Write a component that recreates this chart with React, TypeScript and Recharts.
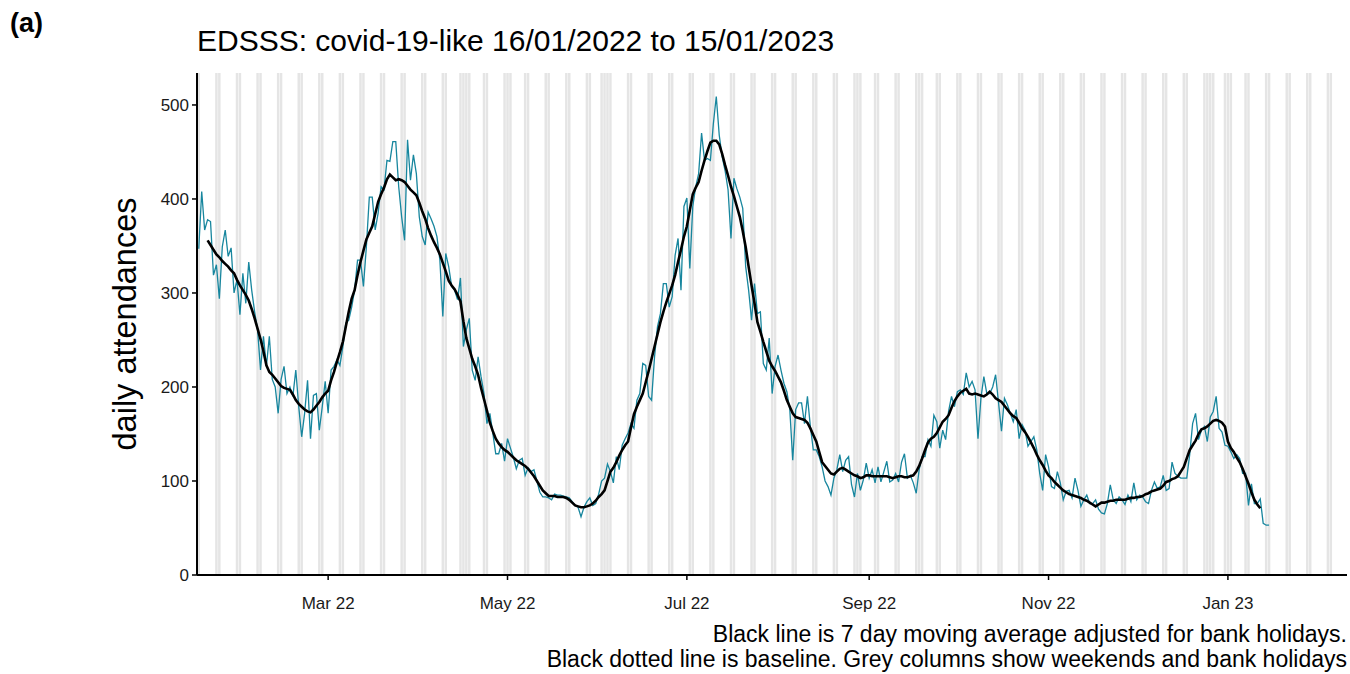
import React from "react";
import { ComposedChart, Line, XAxis, YAxis, ReferenceArea } from "recharts";

// day 0 = 16/01/2022
const START = Date.UTC(2022, 0, 16);
const DAY_MS = 86400000;
const dayOf = (iso: string) => Math.round((Date.parse(iso + "T00:00:00Z") - START) / DAY_MS);

// daily attendances, 16/01/2022 .. 15/01/2023
const DAILY = [
    347, 408, 367, 378, 376, 319, 330, 294, 349, 367, // d0
    339, 348, 300, 314, 277, 321, 289, 333, 303, 280, // d10
    261, 218, 254, 222, 254, 208, 200, 172, 208, 222, // d20
    193, 200, 190, 218, 179, 147, 172, 207, 145, 191, // d30
    193, 154, 179, 206, 172, 218, 222, 229, 223, 243, // d40
    268, 271, 285, 303, 335, 335, 307, 349, 402, 402, // d50
    367, 385, 413, 410, 441, 440, 461, 461, 413, 381, // d60
    356, 463, 420, 447, 427, 381, 360, 351, 386, 379, // d70
    371, 360, 335, 275, 342, 328, 307, 303, 293, 316, // d80
    243, 261, 273, 218, 207, 232, 211, 193, 161, 172, // d90
    151, 129, 129, 140, 121, 145, 135, 125, 113, 122, // d100
    124, 106, 114, 110, 112, 100, 88, 83, 83, 82, // d110
    80, 86, 85, 85, 84, 83, 82, 78, 74, 72, // d120
    62, 72, 78, 82, 74, 76, 86, 100, 103, 118, // d130
    110, 98, 126, 112, 138, 145, 151, 161, 156, 186, // d140
    193, 225, 223, 190, 186, 232, 264, 278, 310, 310, // d150
    285, 296, 340, 358, 303, 392, 401, 326, 392, 413, // d160
    427, 470, 441, 443, 441, 480, 509, 468, 445, 430, // d170
    410, 358, 422, 411, 402, 390, 328, 303, 271, 310, // d180
    278, 280, 225, 218, 252, 193, 222, 234, 218, 204, // d190
    195, 176, 122, 176, 183, 183, 161, 190, 158, 133, // d200
    133, 126, 115, 100, 94, 85, 103, 112, 128, 110, // d210
    122, 126, 96, 83, 108, 90, 101, 119, 103, 112, // d220
    98, 115, 99, 110, 121, 99, 101, 108, 99, 120, // d230
    129, 103, 106, 98, 87, 112, 126, 126, 144, 137, // d240
    170, 163, 135, 154, 144, 174, 190, 179, 195, 197, // d250
    192, 215, 200, 206, 197, 145, 188, 211, 193, 193, // d260
    200, 213, 183, 153, 188, 181, 172, 163, 176, 145, // d270
    160, 154, 137, 142, 147, 133, 108, 90, 128, 115, // d280
    94, 92, 110, 98, 80, 89, 90, 82, 103, 90, // d290
    73, 80, 85, 76, 76, 80, 70, 66, 65, 76, // d300
    96, 80, 76, 83, 80, 75, 85, 78, 98, 80, // d310
    85, 83, 78, 76, 90, 99, 92, 94, 106, 90, // d320
    92, 120, 108, 105, 103, 103, 103, 128, 161, 172, // d330
    144, 154, 158, 142, 168, 174, 190, 156, 152, 138, // d340
    137, 131, 124, 128, 124, 108, 108, 74, 97, 76, // d350
    76, 81, 55, 53, 53, // d360
];

// 7 day moving average, starts at day 3
const MA_START = 3;
const MOVING_AVG = [
    356, 351, 346, 341, 338, 334, 331, 328, 324, 321, // d3
    314, 308, 303, 298, 292, 283, 273, 262, 251, 238, // d13
    223, 216, 213, 209, 205, 201, 199, 198, 197, 192, // d23
    186, 182, 179, 176, 174, 173, 176, 180, 184, 189, // d33
    193, 196, 207, 216, 227, 237, 248, 264, 280, 294, // d43
    303, 319, 333, 345, 357, 364, 371, 384, 397, 405, // d53
    412, 421, 426, 423, 420, 421, 420, 418, 414, 410, // d63
    407, 404, 396, 387, 379, 369, 361, 354, 348, 341, // d73
    332, 323, 313, 308, 304, 298, 291, 270, 252, 241, // d83
    230, 222, 213, 199, 187, 175, 162, 153, 145, 140, // d93
    136, 133, 131, 128, 125, 122, 120, 118, 116, 113, // d103
    109, 105, 100, 95, 90, 87, 84, 84, 84, 83, // d113
    83, 83, 82, 80, 77, 74, 73, 72, 72, 73, // d123
    74, 76, 79, 83, 86, 90, 100, 110, 114, 120, // d133
    127, 133, 138, 142, 157, 171, 179, 186, 193, 205, // d143
    217, 230, 243, 256, 269, 280, 290, 299, 308, 319, // d153
    333, 346, 360, 371, 388, 405, 412, 418, 430, 441, // d163
    451, 460, 462, 462, 458, 448, 436, 425, 413, 403, // d173
    392, 381, 366, 349, 328, 308, 289, 269, 259, 248, // d183
    238, 228, 222, 217, 211, 205, 196, 186, 179, 172, // d193
    168, 167, 166, 165, 162, 156, 149, 142, 131, 120, // d203
    116, 112, 108, 107, 110, 113, 114, 112, 110, 108, // d213
    106, 105, 103, 104, 106, 106, 105, 105, 105, 105, // d223
    105, 105, 104, 103, 104, 105, 105, 104, 104, 105, // d233
    106, 110, 116, 124, 133, 141, 145, 147, 151, 157, // d243
    163, 166, 170, 178, 185, 190, 194, 196, 198, 193, // d253
    192, 193, 192, 191, 190, 192, 195, 192, 188, 186, // d263
    184, 180, 176, 172, 169, 167, 162, 156, 152, 147, // d273
    141, 135, 128, 122, 117, 111, 106, 103, 99, 96, // d283
    93, 90, 88, 86, 85, 84, 83, 82, 80, 79, // d293
    77, 75, 73, 75, 77, 77, 78, 79, 79, 80, // d303
    80, 80, 80, 81, 82, 82, 83, 83, 84, 86, // d313
    87, 89, 90, 91, 92, 95, 99, 100, 102, 103, // d323
    105, 110, 115, 124, 133, 138, 143, 150, 155, 156, // d333
    158, 161, 164, 165, 164, 162, 158, 142, 135, 131, // d343
    125, 120, 113, 105, 97, 88, 80, 75, 71, // d353
];

const TICK_DATES = ["2022-03-01", "2022-05-01", "2022-07-01", "2022-09-01", "2022-11-01", "2023-01-01"];
const TICK_LABELS = ["Mar 22", "May 22", "Jul 22", "Sep 22", "Nov 22", "Jan 23"];
const Y_TICKS = [0, 100, 200, 300, 400, 500];
const BANK_HOLIDAYS = [
    "2022-04-15", "2022-04-18", "2022-05-02", "2022-06-02", "2022-06-03",
    "2022-08-29", "2022-09-19", "2022-12-26", "2022-12-27", "2023-01-02",
];

const X_MIN = -0.6;
const X_MAX = 390.5;
const Y_MAX = 534;

const rows = DAILY.map((v, i) => {
    const k = i - MA_START;
    return { day: i, count: v, avg: k >= 0 && k < MOVING_AVG.length ? MOVING_AVG[k] : null };
});

// grey columns: weekends + bank holidays
const greyDays: number[] = [];
for (let d = 0; d <= Math.floor(X_MAX); d++) {
    const wd = new Date(START + d * DAY_MS).getUTCDay();
    if (wd === 0 || wd === 6) greyDays.push(d);
}
BANK_HOLIDAYS.map(dayOf).forEach((d) => {
    if (!greyDays.includes(d)) greyDays.push(d);
});

const tickDays = TICK_DATES.map(dayOf);
const tickText: Record<number, string> = {};
tickDays.forEach((d, i) => (tickText[d] = TICK_LABELS[i]));

const FONT = "'Liberation Sans', Arial, sans-serif";
const tickStyle = { fill: "#1a1a1a", fontSize: 17, fontFamily: FONT };

export default function App() {
    return (
        <div style={{ position: "absolute", left: 0, top: 0, width: 1350, height: 674, background: "#fff", fontFamily: FONT, overflow: "hidden" }}>
            <div style={{ position: "absolute", left: 10, top: 8, fontSize: 27, fontWeight: "bold", color: "#000" }}>(a)</div>
            <div style={{ position: "absolute", left: 197, top: 24, fontSize: 30, color: "#000", whiteSpace: "nowrap" }}>
                EDSSS: covid-19-like 16/01/2022 to 15/01/2023
            </div>
            <div
                style={{
                    position: "absolute",
                    left: 125,
                    top: 324,
                    transform: "translate(-50%, -50%) rotate(-90deg)",
                    fontSize: 32.5,
                    color: "#000",
                    whiteSpace: "nowrap",
                }}
            >
                daily attendances
            </div>
            <ComposedChart
                width={1350}
                height={674}
                data={rows}
                margin={{ top: 73, right: 3, left: 137, bottom: 64 }}
            >
                {greyDays.map((d) => (
                    <ReferenceArea
                        key={d}
                        x1={d - 0.42}
                        x2={d + 0.42}
                        fill="#e5e5e5"
                        fillOpacity={1}
                        stroke="none"
                        ifOverflow="hidden"
                    />
                ))}
                <XAxis
                    dataKey="day"
                    type="number"
                    domain={[X_MIN, X_MAX]}
                    allowDataOverflow
                    ticks={tickDays}
                    tickFormatter={(v) => tickText[v] ?? ""}
                    axisLine={{ stroke: "#000", strokeWidth: 2 }}
                    tickLine={{ stroke: "#000", strokeWidth: 1.5 }}
                    tickSize={5}
                    tickMargin={17}
                    tick={tickStyle}
                    height={35}
                />
                <YAxis
                    type="number"
                    domain={[0, Y_MAX]}
                    allowDataOverflow
                    ticks={Y_TICKS}
                    axisLine={{ stroke: "#000", strokeWidth: 2 }}
                    tickLine={{ stroke: "#000", strokeWidth: 1.5 }}
                    tickSize={5}
                    tickMargin={3}
                    tick={tickStyle}
                    width={60}
                />
                <Line
                    type="linear"
                    dataKey="count"
                    stroke="#17869e"
                    strokeWidth={1.3}
                    dot={false}
                    activeDot={false}
                    isAnimationActive={false}
                />
                <Line
                    type="linear"
                    dataKey="avg"
                    stroke="#000"
                    strokeWidth={2.6}
                    dot={false}
                    activeDot={false}
                    isAnimationActive={false}
                />
            </ComposedChart>
            <div
                style={{
                    position: "absolute",
                    right: 3,
                    top: 622,
                    fontSize: 23,
                    lineHeight: "25px",
                    textAlign: "right",
                    color: "#000",
                    whiteSpace: "nowrap",
                }}
            >
                Black line is 7 day moving average adjusted for bank holidays.
                <br />
                Black dotted line is baseline. Grey columns show weekends and bank holidays
            </div>
        </div>
    );
}
